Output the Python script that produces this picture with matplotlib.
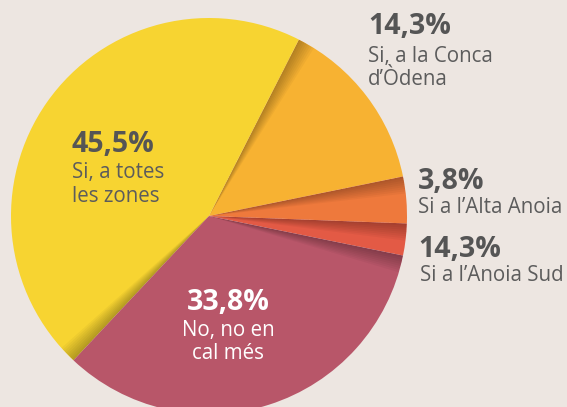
import matplotlib.pyplot as plt
from matplotlib.patches import Wedge

# dades
categories = [["Si, a totes", "les zones"], ["Si, a la Conca", "d\u2019\u00d2dena"],
              ["Si a l\u2019Alta Anoia"], ["Si a l\u2019Anoia Sud"], ["No, no en", "cal m\u00e9s"]]
values = [45.5, 14.3, 3.8, 2.6, 33.8]
pct_labels = ["45,5%", "14,3%", "3,8%", "14,3%", "33,8%"]
colors = ["#f7d431", "#f7b232", "#ee793c", "#e35a45", "#b85669"]

W, H = 567, 407
fig = plt.figure(figsize=(W / 100, H / 100), dpi=100)
fig.patch.set_facecolor("#ede6e1")
ax = fig.add_axes([0, 0, 1, 1])

cx, cy, R = 209, 191, 198
start = 63 + values[0] * 3.6
wedges, _ = ax.pie(values, colors=colors, startangle=start, counterclock=False,
                   center=(cx, cy), radius=R, frame=True,
                   wedgeprops=dict(linewidth=0))
ax.set_xlim(0, W)
ax.set_ylim(0, H)
ax.set_aspect("equal")
ax.axis("off")

# ombra a la vora de cada sector (costat antihorari)
for w in wedges:
    th = w.theta2
    for k in range(1, 9):
        sh = Wedge((cx, cy), R, th - 5.0 * k / 8, th, facecolor="black",
                   alpha=0.035, linewidth=0)
        sh.set_clip_path(w)
        ax.add_patch(sh)

fnt = "Open Sans"
dark = "#555555"
light = "#5c5c5c"

def label(x, ys, pct, lines, col=dark, col2=light, ha="left", dx=0):
    # ys: linies base en pixels des de dalt
    ax.text(x, H - ys[0], pct, fontsize=20.5, fontweight="bold", color=col,
            family=fnt, ha=ha, va="baseline")
    for line, y in zip(lines, ys[1:]):
        ax.text(x + dx, H - y, line, fontsize=14.8, color=col2,
                family=fnt, ha=ha, va="baseline")

label(72, [152, 178, 202], pct_labels[0], categories[0])
label(368, [34, 62, 85], pct_labels[1], categories[1])
label(418, [189, 213], pct_labels[2], categories[2])
label(418, [257, 281], pct_labels[3], categories[3], dx=2)
label(228, [310, 336, 359], pct_labels[4], categories[4], col="white", col2="white", ha="center")

fig.savefig("out.png", dpi=100, facecolor=fig.get_facecolor())
